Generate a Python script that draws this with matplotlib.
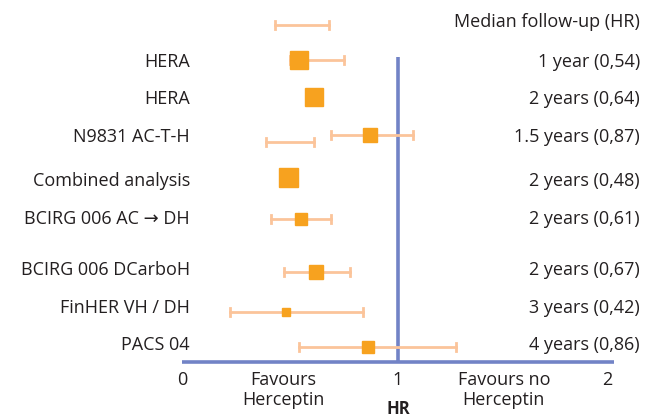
import matplotlib.pyplot as plt

plt.rcParams['font.family'] = ['Open Sans', 'DejaVu Sans']

# studies (left labels) and follow-up (right labels)
studies = ['HERA', 'HERA', 'N9831 AC-T-H', 'Combined analysis',
           'BCIRG 006 AC \u2192 DH', 'BCIRG 006 DCarboH', 'FinHER VH / DH', 'PACS 04']
followup = ['1 year (0,54)', '2 years (0,64)', '1.5 years (0,87)', '2 years (0,48)',
            '2 years (0,61)', '2 years (0,67)', '3 years (0,42)', '4 years (0,86)']

# point estimates, CI bounds (None = not drawn) and marker size (px)
hr = [0.54, 0.61, 0.87, 0.49, 0.55, 0.62, 0.48, 0.86]
ci_lo = [0.50, None, 0.69, None, 0.41, 0.47, 0.22, 0.54]
ci_hi = [0.75, None, 1.07, None, 0.69, 0.78, 0.84, 1.27]
msize = [18, 18, 14, 19, 12, 14, 8, 12]

# extra bars without point (legend row and N9831 second bar)
extra_lo = [0.43, 0.39]
extra_hi = [0.68, 0.61]

# layout (rows in pixel units from top)
row_y = [60, 97, 135, 177, 219, 272, 312, 347]
label_y = [62, 99, 137, 181, 219, 270, 308, 345]
extra_y = [25, 142]

ORANGE = '#F7A21F'
LIGHT = '#FBC49A'
BLUE = '#7283C6'
FS = 13

fig = plt.figure(figsize=(6.54, 4.20), dpi=100)
ax = fig.add_axes([0, 0, 1, 1])
ax.set_xlim(-182 / 216, 472 / 216)
ax.set_ylim(420, 0)
ax.axis('off')

# axis and HR = 1 line
ax.plot([0, 2], [362, 362], color=BLUE, lw=2.6, solid_capstyle='butt', zorder=1)
ax.plot([1, 1], [57, 362], color=BLUE, lw=2.6, solid_capstyle='butt', zorder=1)

cap = 4
for lo, hi, y in zip(extra_lo, extra_hi, extra_y):
    ax.plot([lo, hi], [y, y], color=LIGHT, lw=2, zorder=2)
    ax.plot([lo, lo], [y - cap, y + cap], color=LIGHT, lw=2, zorder=2)
    ax.plot([hi, hi], [y - cap, y + cap], color=LIGHT, lw=2, zorder=2)

for x, lo, hi, s, y in zip(hr, ci_lo, ci_hi, msize, row_y):
    if lo is not None:
        ax.plot([lo, hi], [y, y], color=LIGHT, lw=2, zorder=2)
        ax.plot([lo, lo], [y - cap, y + cap], color=LIGHT, lw=2, zorder=2)
        ax.plot([hi, hi], [y - cap, y + cap], color=LIGHT, lw=2, zorder=2)
    ax.plot(x, y, marker='s', ms=s * 0.72, color=ORANGE, mec=ORANGE, zorder=3)

x_left = (190 - 182) / 216
x_right = (640 - 182) / 216
for name, fu, y in zip(studies, followup, label_y):
    ax.text(x_left, y, name, ha='right', va='center', fontsize=FS, color='#231F20')
    ax.text(x_right, y, fu, ha='right', va='center', fontsize=FS, color='#231F20')
ax.text(x_right, 22, 'Median follow-up (HR)', ha='right', va='center', fontsize=FS, color='#231F20')

# tick labels
for t, lab in zip([0, 1, 1.97], ['0', '1', '2']):
    ax.text(t, 380, lab, ha='center', va='center', fontsize=FS, color='#231F20')
ax.text(0.47, 380, 'Favours', ha='center', va='center', fontsize=FS, color='#231F20')
ax.text(0.47, 400, 'Herceptin', ha='center', va='center', fontsize=FS, color='#231F20')
ax.text(1.49, 380, 'Favours no', ha='center', va='center', fontsize=FS, color='#231F20')
ax.text(1.49, 400, 'Herceptin', ha='center', va='center', fontsize=FS, color='#231F20')
ax.text(1, 418, 'HR', ha='center', va='bottom', fontsize=FS - 1, fontweight='bold', color='#231F20')

fig.savefig('out.png', dpi=100)
